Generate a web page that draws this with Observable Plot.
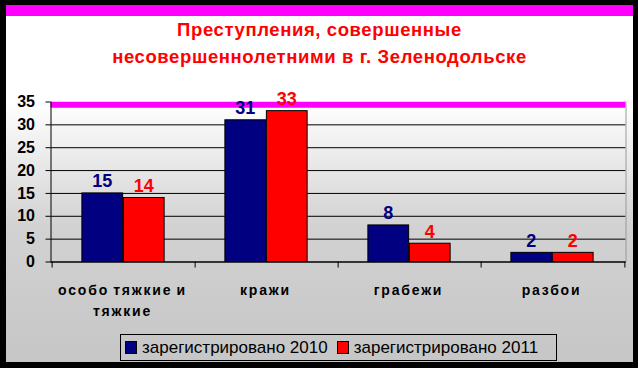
<!DOCTYPE html>
<html><head><meta charset="utf-8">
<script src="https://cdn.jsdelivr.net/npm/d3@7"></script>
<script src="https://cdn.jsdelivr.net/npm/@observablehq/plot@0.6"></script>
<style>
html,body{margin:0;padding:0;}
body{background:#000;width:638px;height:368px;overflow:hidden;position:relative;font-family:"Liberation Sans",Arial,sans-serif;}
#panel{position:absolute;left:6px;top:5px;width:627px;height:357px;background:linear-gradient(to bottom,#ffffff 0%,#ffffff 27%,#d2d2d2 62%,#c6c6c6 100%);}
#band{position:absolute;left:6px;top:5px;width:627px;height:11px;background:#ff00ff;}
#title{position:absolute;left:6px;width:627px;top:16px;text-align:center;color:#ff0000;font-weight:bold;font-size:18.5px;line-height:27px;letter-spacing:0.6px;}
#chart{position:absolute;left:0;top:0;}
#chart svg{background:transparent;overflow:visible;}
.cat text{letter-spacing:1.8px;word-spacing:-1.5px;}
#legend{position:absolute;left:120px;top:334px;width:437px;height:27px;border:1px solid #000;box-sizing:border-box;display:flex;align-items:center;font-size:17px;color:#000;}
#legend .item{display:flex;align-items:center;margin-left:4px;margin-right:5px;}
#legend .sw{width:10px;height:11px;border:1px solid #000;margin-right:5px;}
</style>
</head><body>
<div id="panel"></div>
<div id="band"></div>
<div id="title">Преступления, совершенные<br>несовершеннолетними в г. Зеленодольске</div>
<div id="chart"></div>
<div id="legend"></div>
<script>
const categories = ["особо тяжкие и тяжкие", "кражи", "грабежи", "разбои"];
const categoryLabels = ["особо тяжкие и\nтяжкие", "кражи", "грабежи", "разбои"];
const series = ["зарегистрировано 2010", "зарегистрировано 2011"];
const values2010 = [15, 31, 8, 2];
const values2011 = [14, 33, 4, 2];
const yTicks = [0, 5, 10, 15, 20, 25, 30, 35];
const gridTicks = [5, 10, 15, 20, 25, 30];
const colors = ["#000080", "#ff0000"];

const rows = [];
categories.forEach((c, i) => {
  rows.push({cat: c, series: series[0], value: values2010[i]});
  rows.push({cat: c, series: series[1], value: values2011[i]});
});
const r2010 = rows.filter(d => d.series === series[0]);
const r2011 = rows.filter(d => d.series === series[1]);

const step = 143.75, barW = 41.5, outer = (step - 2 * barW) / 2 - 0.5;
const labelOf = new Map(categories.map((c, i) => [c, categoryLabels[i]]));

const chart = Plot.plot({
  width: 638,
  height: 368,
  marginLeft: 50.5,
  marginRight: 12.5,
  marginTop: 101.5,
  marginBottom: 106.5,
  style: {fontFamily: "'Liberation Sans', Arial, sans-serif", color: "#000", background: "transparent"},
  x: {domain: categories, padding: 0, axis: null},
  y: {domain: [0, 35], axis: null},
  marks: [
    Plot.ruleY(gridTicks, {stroke: "#000", strokeWidth: 1}),
    Plot.ruleY([35], {stroke: "#ff00ff", strokeWidth: 6, dy: 2.7}),
    Plot.frame({anchor: "right", stroke: "#9a9a9a"}),
    Plot.barY(r2010, {x: "cat", y: "value", fill: colors[0], stroke: "#000", strokeWidth: 1, insetLeft: outer, insetRight: step - outer - barW}),
    Plot.barY(r2011, {x: "cat", y: "value", fill: colors[1], stroke: "#000", strokeWidth: 1, insetLeft: outer + barW, insetRight: step - outer - 2 * barW}),
    Plot.frame({anchor: "left", stroke: "#000"}),
    Plot.ruleY([0], {stroke: "#000", strokeWidth: 1.5}),
    Plot.axisX(categories, {tickSize: 6, tickFormat: () => "", label: null, dx: -step / 2, stroke: "#000"}),
    Plot.axisX([categories[categories.length - 1]], {tickSize: 6, tickFormat: () => "", label: null, dx: step / 2, stroke: "#000"}),
    Plot.axisX({tickSize: 0, tickPadding: 19, fontSize: 14, fontWeight: "bold", lineHeight: 1.45, label: null, tickFormat: d => labelOf.get(d), className: "cat", fill: "#000"}),
    Plot.axisY({ticks: yTicks, tickSize: 5, tickPadding: 11, fontSize: 16, fontWeight: "bold", label: null, fill: "#000", stroke: "#000"}),
    Plot.text(r2010, {x: "cat", y: "value", text: d => String(d.value), dx: -barW / 2 - 1, dy: -6, lineAnchor: "bottom", fill: colors[0], fontSize: 18, fontWeight: "bold"}),
    Plot.text(r2011, {x: "cat", y: "value", text: d => String(d.value), dx: barW / 2 - 1, dy: -6, lineAnchor: "bottom", fill: colors[1], fontSize: 18, fontWeight: "bold"})
  ]
});
document.getElementById("chart").appendChild(chart);

// re-centre each category label line under its band (letter-spacing skews SVG anchoring)
chart.querySelectorAll("g.cat text").forEach(t => {
  const parts = t.querySelectorAll("tspan");
  const lines = parts.length ? Array.from(parts) : [t];
  lines.forEach(el => {
    const n = el.getNumberOfChars();
    if (!n) return;
    const start = el.getStartPositionOfChar(0).x;
    const end = el.getEndPositionOfChar(n - 1).x;
    const centre = (start + end) / 2;
    const cur = parseFloat(el.getAttribute("x") || "0");
    el.setAttribute("x", cur - centre - 1.5);
  });
});

const legend = document.getElementById("legend");
series.forEach((s, i) => {
  const item = document.createElement("div");
  item.className = "item";
  const sw = document.createElement("div");
  sw.className = "sw";
  sw.style.background = colors[i];
  const t = document.createElement("span");
  t.textContent = s;
  item.appendChild(sw);
  item.appendChild(t);
  legend.appendChild(item);
});
</script>
</body></html>
